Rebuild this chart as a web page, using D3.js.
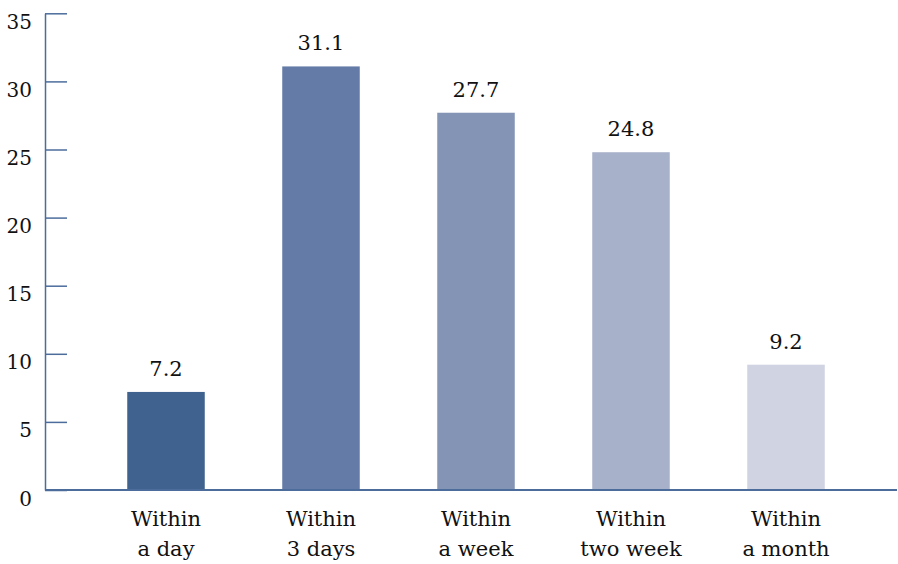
<!DOCTYPE html>
<html>
<head>
<meta charset="utf-8">
<script src="https://cdn.jsdelivr.net/npm/d3@7"></script>
<style>
  html, body { margin: 0; padding: 0; background: #fff; }
  svg { display: block; }
  svg text { font-family: "DejaVu Serif", "Liberation Serif", serif !important; }
</style>
</head>
<body>
<svg id="chart" width="898" height="564"></svg>
<script>
// Share of responses by time window
const categories = ["Within a day", "Within 3 days", "Within a week", "Within two week", "Within a month"];
const categoryLines = [["Within", "a day"], ["Within", "3 days"], ["Within", "a week"], ["Within", "two week"], ["Within", "a month"]];
const values = [7.2, 31.1, 27.7, 24.8, 9.2];
const barColors = ["#3f628f", "#637ba6", "#8394b5", "#a8b1ca", "#d0d4e2"];
const yTicks = [0, 5, 10, 15, 20, 25, 30, 35];

const svg = d3.select("#chart");
const axisColor = "#4c6c9c";

const plot = { left: 45, right: 897, top: 13.3, bottom: 490 };

const y = d3.scaleLinear().domain([0, 35]).range([plot.bottom, plot.top]);
const x = d3.scaleBand()
  .domain(categories)
  .range([88.5, 863.5])
  .paddingInner(0.5)
  .paddingOuter(0.25);

// Bars
svg.append("g").selectAll("rect")
  .data(values)
  .join("rect")
  .attr("x", (d, i) => x(categories[i]))
  .attr("y", d => y(d))
  .attr("width", x.bandwidth())
  .attr("height", d => y(0) - y(d))
  .attr("fill", (d, i) => barColors[i]);

// Value labels
svg.append("g").selectAll("text")
  .data(values)
  .join("text")
  .attr("x", (d, i) => x(categories[i]) + x.bandwidth() / 2)
  .attr("y", d => y(d) - 16)
  .attr("text-anchor", "middle")
  .attr("font-size", 21)
  .attr("fill", "#111")
  .text(d => d.toFixed(1));

// Y axis with inward ticks
const yAxis = d3.axisLeft(y)
  .tickValues(yTicks)
  .tickSizeInner(-22)
  .tickSizeOuter(0)
  .tickPadding(13);

const gy = svg.append("g")
  .attr("transform", `translate(${plot.left},0)`)
  .call(yAxis);
gy.select(".domain").attr("stroke", axisColor).attr("stroke-width", 1.5);
gy.selectAll(".tick line").attr("stroke", axisColor).attr("stroke-width", 1.5);
gy.selectAll(".tick text")
  .attr("font-size", 20)
  .attr("fill", "#111")
  .attr("dy", "0.75em");

// Baseline
svg.append("line")
  .attr("x1", plot.left)
  .attr("x2", plot.right)
  .attr("y1", y(0))
  .attr("y2", y(0))
  .attr("stroke", axisColor)
  .attr("stroke-width", 2);

// Category labels (two lines each)
const cat = svg.append("g").selectAll("text")
  .data(categoryLines)
  .join("text")
  .attr("text-anchor", "middle")
  .attr("font-size", 21)
  .attr("fill", "#111");
cat.selectAll("tspan")
  .data((d, i) => d.map(line => ({ line, i })))
  .join("tspan")
  .attr("x", d => x(categories[d.i]) + x.bandwidth() / 2)
  .attr("y", (d, j) => 526 + j * 30)
  .text(d => d.line);
</script>
</body>
</html>
